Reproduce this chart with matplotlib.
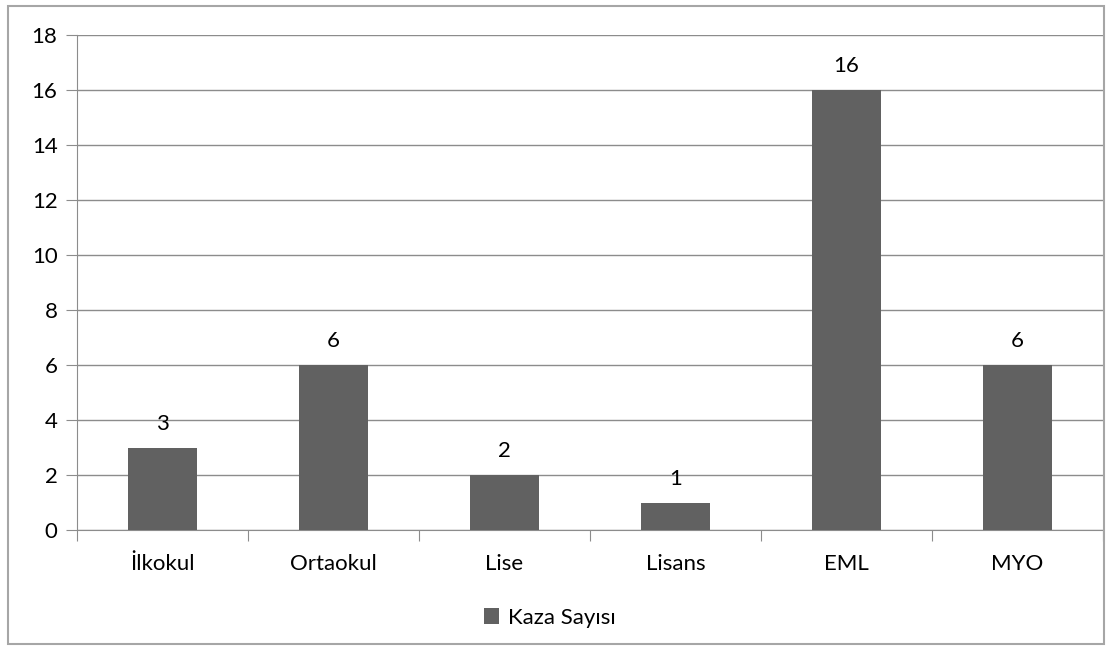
import matplotlib.pyplot as plt
from matplotlib.patches import Rectangle

categories = ['İlkokul', 'Ortaokul', 'Lise', 'Lisans', 'EML', 'MYO']
kaza_sayisi = [3, 6, 2, 1, 16, 6]
series_name = 'Kaza Sayısı'

plt.rcParams['font.family'] = ['Lato', 'DejaVu Sans']
bar_color = '#616161'
grid_color = '#8c8c8c'
fs = 16

fig = plt.figure(figsize=(11.09, 6.46), dpi=100)
fig.patch.set_facecolor('white')

# outer chart border
fig.patches.append(Rectangle((8 / 1109, 1 - 644 / 646), 1096 / 1109, 638 / 646,
                             transform=fig.transFigure, fill=False,
                             edgecolor='#a6a6a6', linewidth=1.5))

ax = fig.add_axes([77 / 1109, 1 - 530 / 646, 1026 / 1109, 495 / 646])
x = range(len(categories))
bars = ax.bar(x, kaza_sayisi, width=0.4, color=bar_color, label=series_name, zorder=3)
for b, v in zip(bars, kaza_sayisi):
    ax.annotate(str(v), (b.get_x() + b.get_width() / 2, v), xytext=(0, 10),
                textcoords='offset points', ha='center', va='bottom', fontsize=fs)

ax.set_xlim(-0.5, len(categories) - 0.5)
ax.set_ylim(0, 18)
ax.set_yticks(range(0, 19, 2))
ax.yaxis.grid(True, color=grid_color, linewidth=1)
ax.set_axisbelow(True)
for s in ['top', 'right']:
    ax.spines[s].set_visible(False)
ax.spines['left'].set_color(grid_color)
ax.spines['bottom'].set_color(grid_color)

ax.set_xticks([i - 0.5 for i in range(len(categories) + 1)], minor=False)
ax.set_xticklabels([])
ax.set_xticks(list(x), minor=True)
ax.set_xticklabels(categories, minor=True)
ax.tick_params(axis='x', which='major', length=8, color=grid_color)
ax.tick_params(axis='x', which='minor', length=0, pad=17, labelsize=fs)
ax.tick_params(axis='y', length=8, color=grid_color, labelsize=fs, pad=6)

fig.legend(handles=[bars], labels=[series_name], loc='center',
           bbox_to_anchor=(550 / 1109, 1 - 618 / 646), frameon=False,
           fontsize=fs, handlelength=0.7, handleheight=0.7, handletextpad=0.4)

fig.savefig('out.png', dpi=100)
